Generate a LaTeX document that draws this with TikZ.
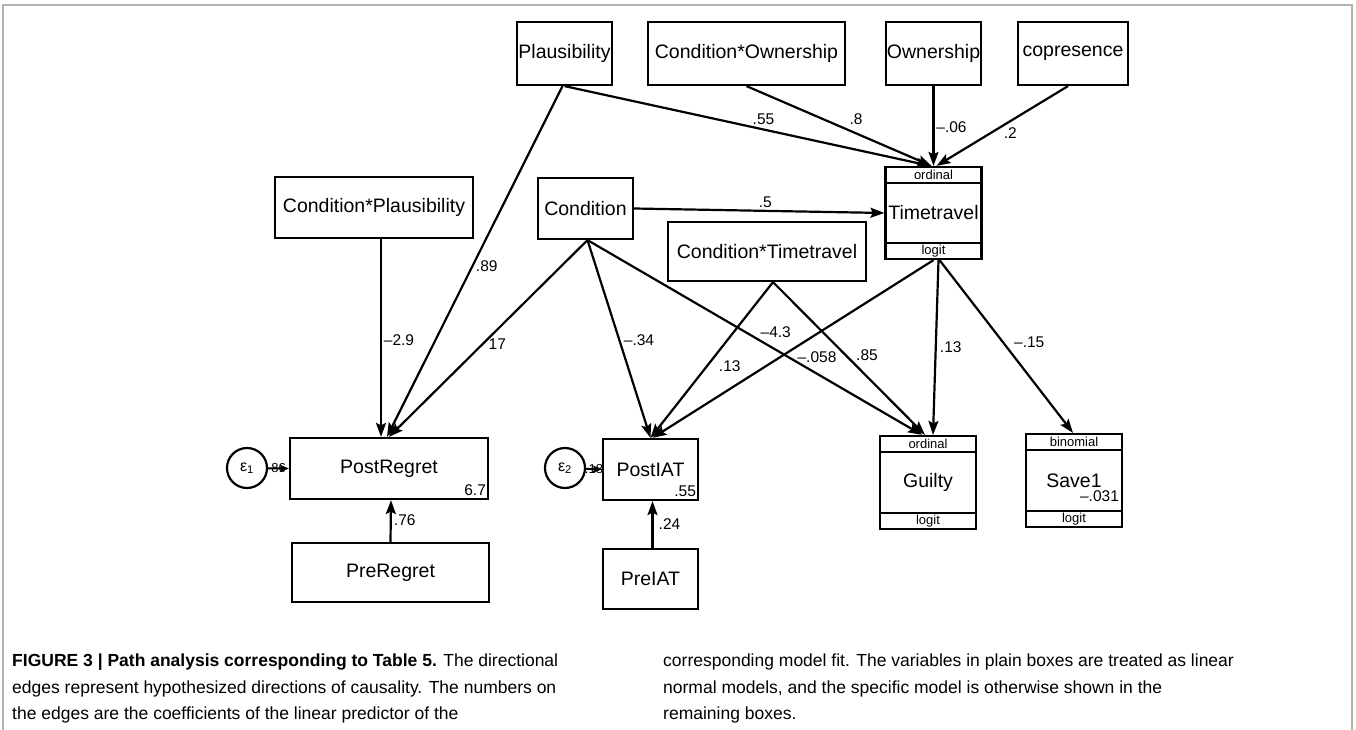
\documentclass[tikz,border=0pt]{standalone}
\usepackage{fontspec}
\setmainfont{Liberation Sans}
\usetikzlibrary{arrows.meta}
\usetikzlibrary{calc}

\tikzset{
    varbox/.style={draw,rectangle,line width=2.2pt,inner sep=0pt,
        font=\fontsize{19.5}{22}\selectfont},
    strip/.style={draw,rectangle,line width=2.2pt,inner sep=0pt,
        minimum width=96pt,minimum height=16pt,font=\fontsize{13}{14}\selectfont},
    errnode/.style={draw,circle,line width=2.2pt,minimum size=40pt,inner sep=0pt,
        font=\fontsize{16}{18}\selectfont},
    coef/.style={inner sep=0pt,font=\fontsize{15.5}{17}\selectfont},
}

\begin{document}
\begin{tikzpicture}[x=1pt,y=-1pt]
    \useasboundingbox (0,0) rectangle (1356,730);
    \draw[gray!60,line width=2pt] (3,730) -- (3,5) -- (1352,5) -- (1352,730);

    % variables
    \node[varbox,minimum width=95pt,minimum height=63pt] (plaus) at (564.5,53.5) {Plausibility};
    \node[varbox,minimum width=197pt,minimum height=63pt] (condown) at (746.5,53.5) {Condition*Ownership};
    \node[varbox,minimum width=95pt,minimum height=63pt] (owner) at (933.5,53.5) {Ownership};
    \node[varbox,minimum width=110pt,minimum height=63pt] (copres) at (1073,53.5) {copresence};
    \node[varbox,minimum width=198pt,minimum height=61pt] (condplaus) at (374,207.5) {Condition*Plausibility};
    \node[varbox,minimum width=95pt,minimum height=61pt] (cond) at (585.5,208.5) {Condition};
    \node[varbox,minimum width=198pt,minimum height=59pt] (condtt) at (767,251.5) {Condition*Timetravel};
    \node[varbox,minimum width=96pt,minimum height=92pt] (tt) at (933.5,213) {Timetravel};
    \node[varbox,minimum width=198pt,minimum height=61pt] (postreg) at (389,468.5) {PostRegret};
    \node[varbox,minimum width=95pt,minimum height=61pt] (postiat) at (650.5,469.5) {PostIAT};
    \node[varbox,minimum width=96pt,minimum height=93pt] (guilty) at (928,482.5) {Guilty};
    \node[varbox,minimum width=96pt,minimum height=93pt] (save) at (1074,480.5) {Save1};
    \node[varbox,minimum width=197pt,minimum height=59pt] (prereg) at (390.5,572.5) {PreRegret};
    \node[varbox,minimum width=95pt,minimum height=60pt] (preiat) at (650.5,579) {PreIAT};

    % model strips
    \foreach \n/\t/\b in {tt/ordinal/logit,guilty/ordinal/logit,save/binomial/logit}{
        \node[strip,anchor=north] (\n top) at (\n.north) {\t};
        \node[strip,anchor=south] (\n bot) at (\n.south) {\b};
    }

    % intercepts
    \begin{scope}[every node/.style={coef}]
        \node[anchor=south east] (postregcons) at ([shift={(-3,-4)}]postreg.south east) {6.7};
        \node[anchor=south east] (postiatcons) at ([shift={(-3,-4)}]postiat.south east) {.55};
        \node[anchor=south east] (savecons) at ([shift={(-4,-8)}]savebot.north east) {--.031};
    \end{scope}

    % errors
    \node[errnode] (e1) at (247,468) {ε\textsubscript{1}};
    \node[errnode] (e2) at (565,468) {ε\textsubscript{2}};

    \begin{scope}[>={Stealth[length=14pt,width=10pt,inset=2.5pt]},
            every edge/.style={draw,line width=2.2pt},
            every node/.style={coef}]
        \path [->] ([xshift=-2pt]plaus.south) edge node[midway,shift={(12,5)}] {.89} ([xshift=-2pt]postreg.north);
        \path [->] (plaus.south) edge node[midway,shift={(16,-7)}] {.55} ([xshift=-3pt]tt.north);
        \path [->] (condown.south) edge node[midway,shift={(17,-7)}] {.8} ([xshift=-2pt]tt.north);
        \path [->] (owner.south) edge node[midway,shift={(18,1)}] {--.06} (tt.north);
        \path [->] ([xshift=-5pt]copres.south) edge node[midway,shift={(8,7)}] {.2} ([xshift=3pt]tt.north);
        \path [->] (cond.east) edge node[midway,shift={(6,-9)}] {.5} (tt.west);
        \path [->] ([xshift=7pt]condplaus.south) edge node[midway,shift={(18,2)}] {--2.9} ([xshift=-8pt]postreg.north);
        \path [->] ([xshift=2pt]cond.south) edge node[midway,shift={(9,6)}] {17} (postreg.north);
        \path [->] ([xshift=2pt]cond.south) edge node[midway,shift={(20,1)}] {--.34} (postiat.north);
        \path [->] ([xshift=2pt]cond.south) edge node[midway,shift={(21,-5)}] {--4.3} ([xshift=-6pt]guiltytop.north);
        \path [->] ([xshift=6pt]condtt.south) edge node[midway,shift={(18,6)}] {.13} (postiat.north);
        \path [->] ([xshift=6pt]condtt.south) edge node[midway,shift={(18,-3)}] {.85} ([xshift=-3pt]guiltytop.north);
        \path [->] (ttbot.south) edge node[midway,shift={(24,8)}] {--.058} ([xshift=2pt]postiat.north);
        \path [->] ([xshift=5pt]ttbot.south) edge node[midway,shift={(15,0)}] {.13} ([xshift=5pt]guiltytop.north);
        \path [->] ([xshift=6pt]ttbot.south) edge node[midway,shift={(23,-4)}] {--.15} ([xshift=-1pt]savetop.north);
        \path [->] (prereg.north) edge node[midway,shift={(14,-1)}] {.76} ([xshift=2pt]postreg.south);
        \path [->] ([xshift=2pt]preiat.north) edge node[midway,shift={(17,0)}] {.24} ([xshift=2pt]postiat.south);
    \end{scope}

    \begin{scope}[>={Stealth[length=9pt,width=7pt,inset=1.5pt]},
            every edge/.style={draw,line width=2pt},
            every node/.style={coef,font=\fontsize{13}{14}\selectfont}]
        \path [->] (e1) edge node[midway] {86} (postreg.west);
        \path [->] (e2) edge node[midway] {.18} (postiat.west);
    \end{scope}

    % caption
    \begin{scope}[every node/.style={inner sep=0pt,align=left,anchor=north west,
            font=\fontsize{17.5}{26.5}\selectfont}]
        \node (capleft) at (12,654) {\textbf{FIGURE 3 | Path analysis corresponding to Table 5.} The directional\\
            edges represent hypothesized directions of causality. The numbers on\\
            the edges are the coefficients of the linear predictor of the};
        \node (capright) at (663,654) {corresponding model fit. The variables in plain boxes are treated as linear\\
            normal models, and the specific model is otherwise shown in the\\
            remaining boxes.};
    \end{scope}
\end{tikzpicture}
\end{document}
